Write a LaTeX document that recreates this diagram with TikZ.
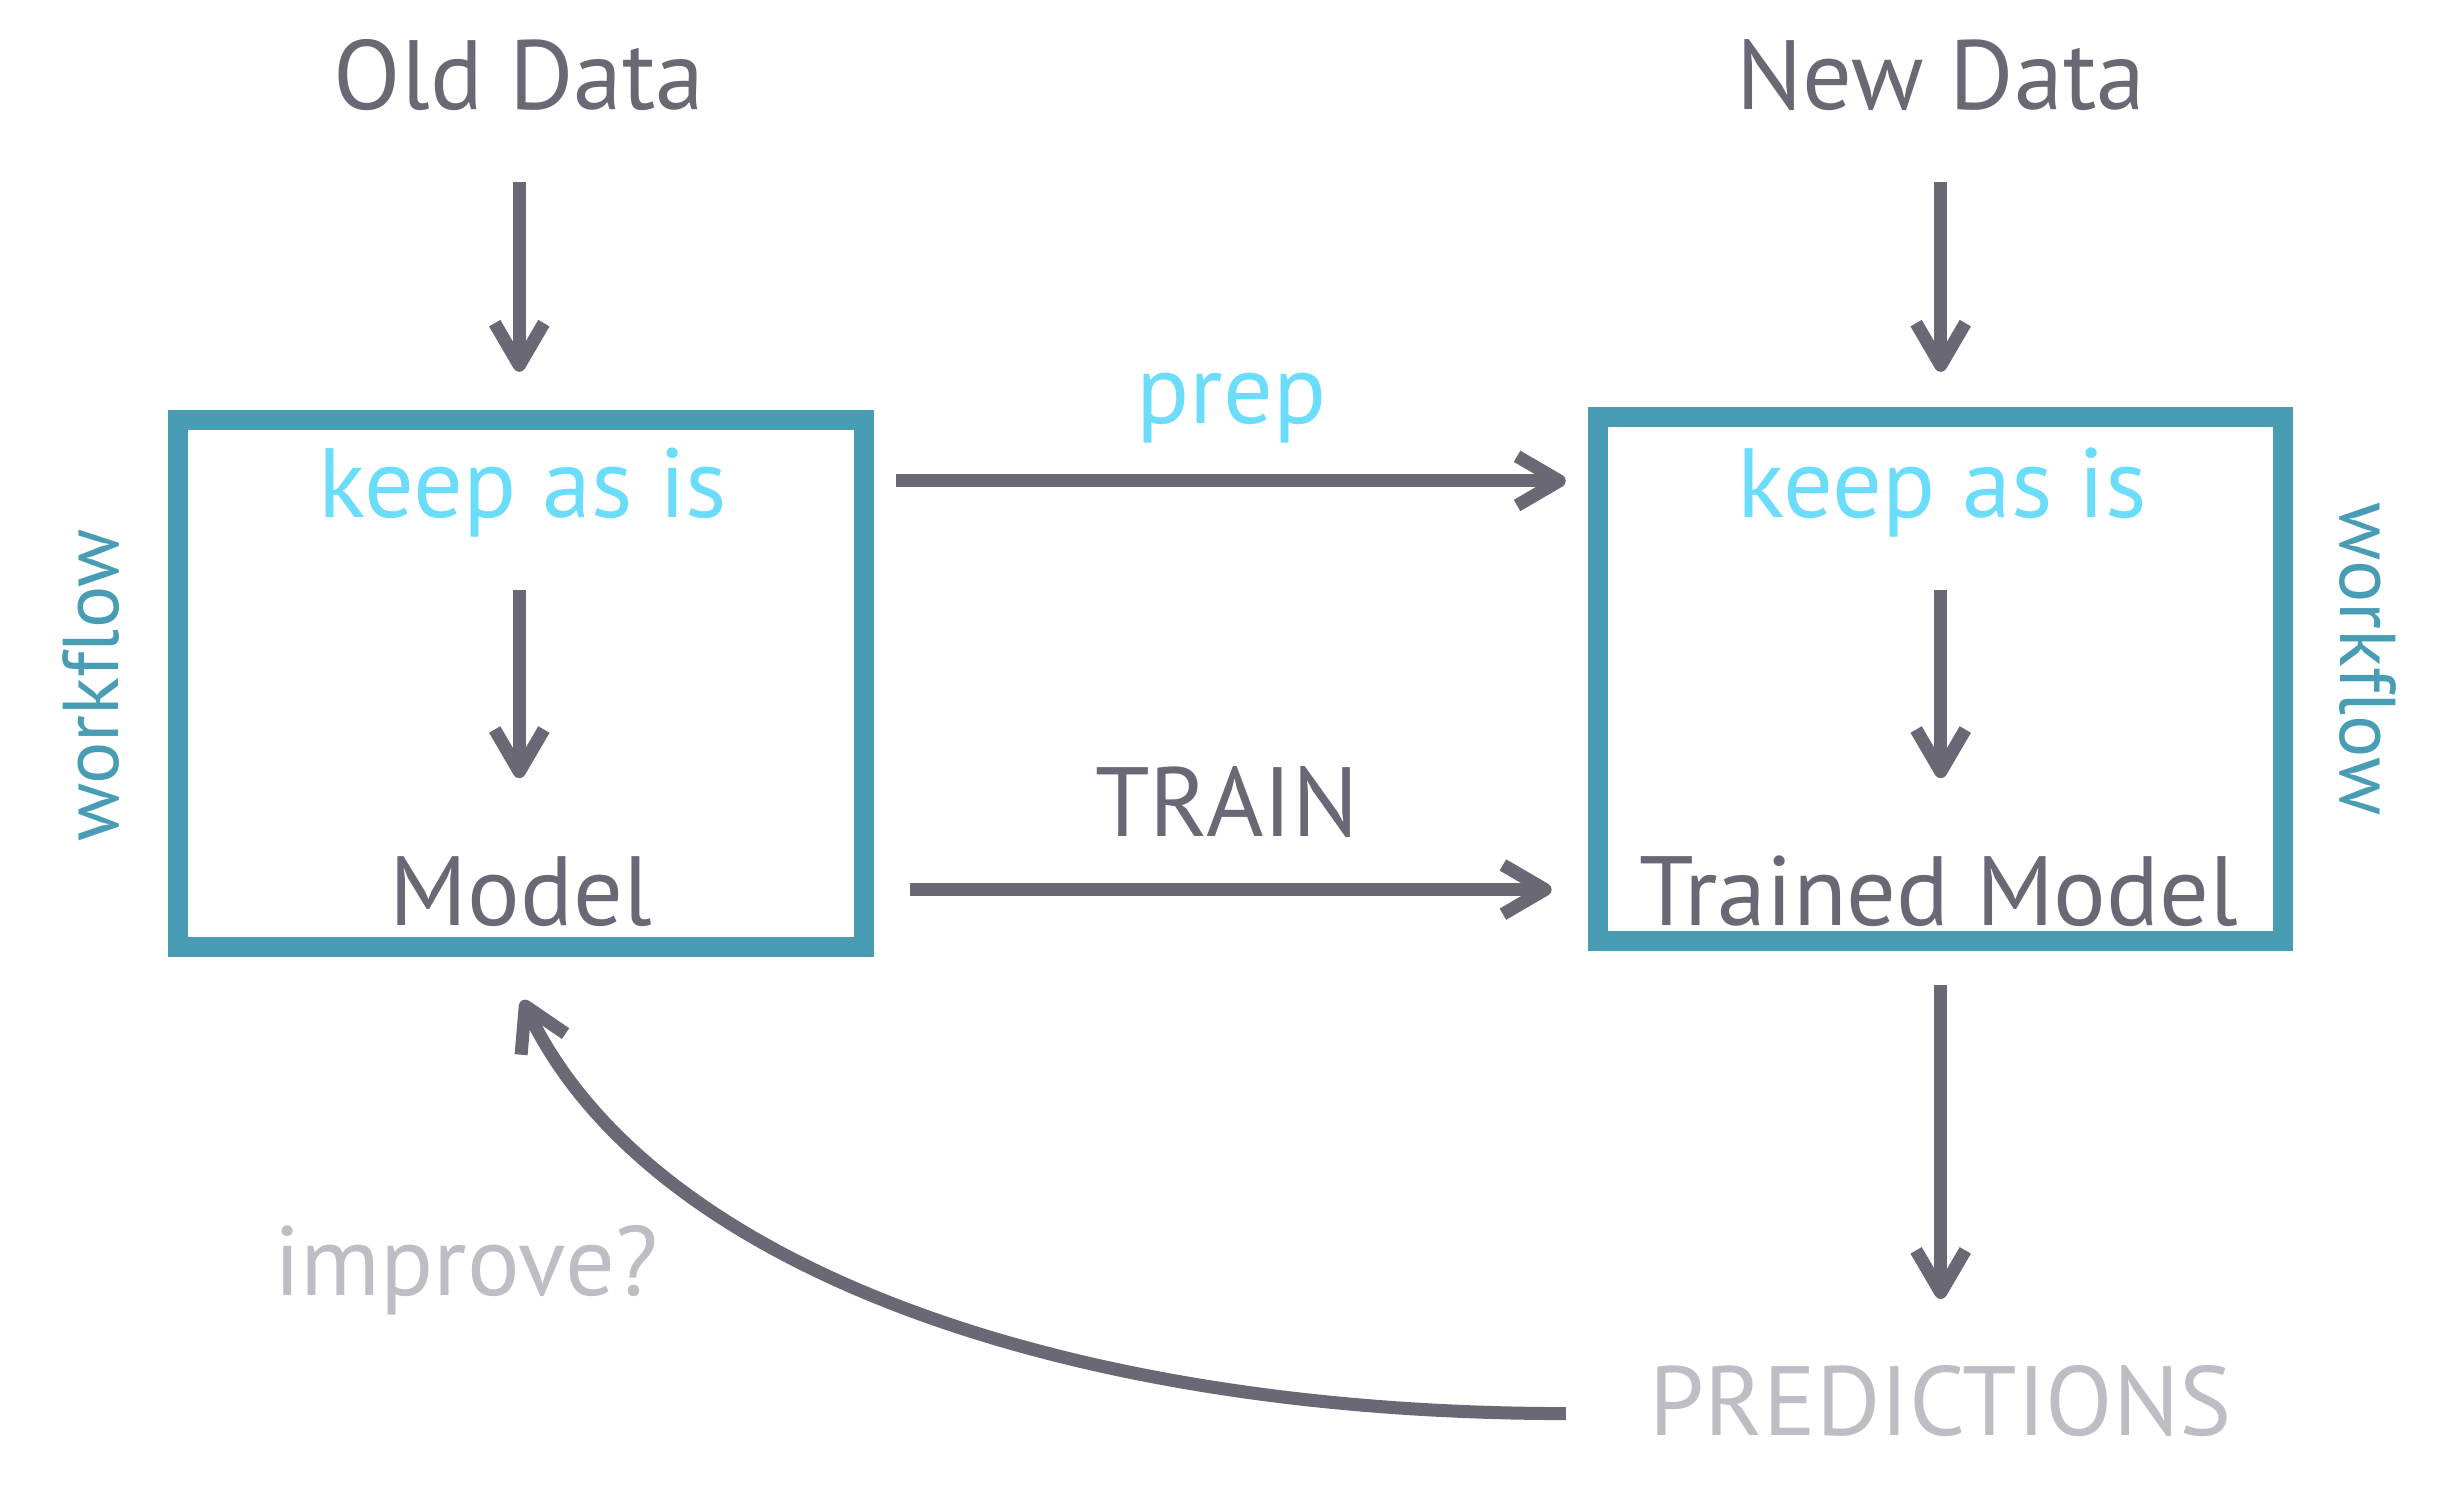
\documentclass[tikz,border=0pt]{standalone}
\usepackage{fontspec}
\setmainfont{PT Sans}[Ligatures=NoCommon]
\usetikzlibrary{arrows.meta,fit}
\definecolor{ink}{RGB}{106,104,116}
\definecolor{boxteal}{RGB}{72,157,180}
\definecolor{keepblue}{RGB}{107,221,250}
\definecolor{pale}{RGB}{190,189,195}
\begin{document}
\begin{tikzpicture}[x=0.015689cm,y=-0.015689cm,
  lbl/.style={inner sep=0pt, anchor=base, text=ink, font=\fontsize{28}{30}\selectfont},
  keep/.style={lbl, text=keepblue},
  paletext/.style={lbl, text=pale},
  wf/.style={inner sep=0pt, text=boxteal, font=\fontsize{22.5}{24}\selectfont},
  arr/.style={draw=ink, line width=3.7pt, -{Straight Barb[length=12pt,width=14pt,line join=round]}},
  box/.style={draw=boxteal, line width=5.7pt, inner sep=0pt}]
\useasboundingbox (0,0) rectangle (1568,946);
% boxes
\node[box, fit={(113.5,267.7) (551,603.6)}] (lbox) {};
\node[box, fit={(1018.5,265.5) (1455,599.6)}] (rbox) {};
% texts
\node[lbl] (olddata) at (331,70) {Old Data};
\node[lbl] (newdata) at (1237,70) {New Data};
\node[keep] (keepl) at (333,330) {keep as is};
\node[keep] (keepr) at (1238,330) {keep as is};
\node[lbl] (model) at (332,590) {Model};
\node[lbl] (trained) at (1236,590) {Trained Model};
\node[keep] (prep) at (785,270) {prep};
\node[lbl] (train) at (782,533) {TRAIN};
\node[paletext] (pred) at (1237,915) {PREDICTIONS};
\node[paletext] (improve) at (297,826) {improve?};
\node[wf, rotate=90] (wfl) at (58,437) {workflow};
\node[wf, rotate=-90] (wfr) at (1509,420) {workflow};
% arrow ends
\coordinate (a1s) at (331,116); \coordinate (a1e) at (331,237);
\coordinate (a2s) at (1237,116); \coordinate (a2e) at (1237,237);
\coordinate (a3s) at (331,376); \coordinate (a3e) at (331,496);
\coordinate (a4s) at (1237,376); \coordinate (a4e) at (1237,496);
\coordinate (a5s) at (571,306.5); \coordinate (a5e) at (998,306.5);
\coordinate (a6s) at (580,567); \coordinate (a6e) at (989,567);
\coordinate (a7s) at (1237,628); \coordinate (a7e) at (1237,828);
\coordinate (a8s) at (998,901); \coordinate (a8e) at (333,637.5);
% connectors
\draw[arr] (a1s) -- (a1e);
\draw[arr] (a2s) -- (a2e);
\draw[arr] (a3s) -- (a3e);
\draw[arr] (a4s) -- (a4e);
\draw[arr] (a5s) -- (a5e);
\draw[arr] (a6s) -- (a6e);
\draw[arr] (a7s) -- (a7e);
\draw[arr] (a8s) .. controls (680,901) and (414,808) .. (a8e);
\end{tikzpicture}
\end{document}
